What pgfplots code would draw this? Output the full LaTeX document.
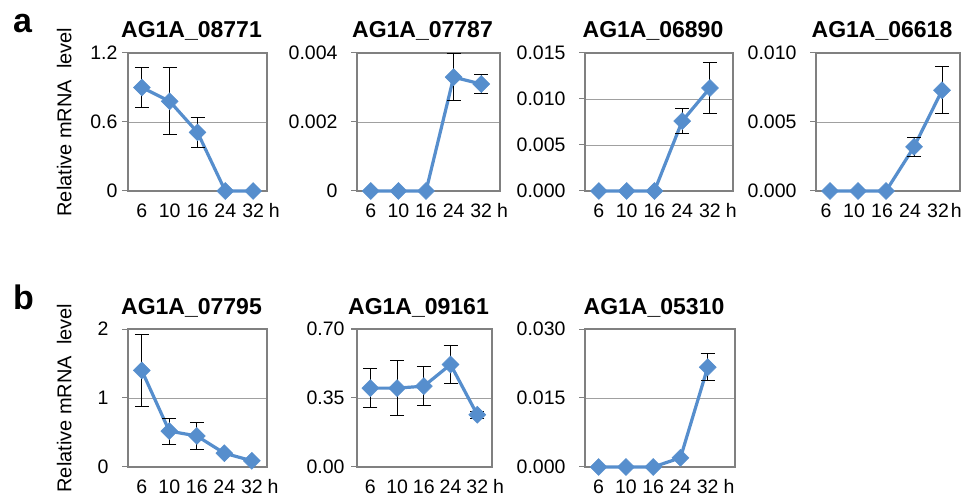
\documentclass[border=0pt]{standalone}
\usepackage{fontspec}
\setmainfont{Liberation Sans}
\usepackage{pgfplots}
\pgfplotsset{compat=1.18}
\definecolor{lineblue}{RGB}{86,142,205}
\definecolor{framegray}{RGB}{128,128,128}
\definecolor{gridgray}{RGB}{160,160,160}
\pgfplotsset{
  ser/.style={
    color=lineblue, line width=3.2pt, mark=square*, mark size=6pt,
    mark options={rotate=45, fill=lineblue, draw=lineblue, line width=0.5pt},
    error bars/y dir=both, error bars/y explicit,
    error bars/error bar style={black, line width=1pt},
    error bars/error mark options={black, line width=1pt, rotate=90, mark size=7pt},
  },
  pan/.style={
    scale only axis, height=138pt,
    xmin=-0.5, ymin=0,
    xtick={0,1,2,3,4}, xticklabels={6,10,16,24,{32\rlap{\hspace{5pt}h}}},
    xtick pos=bottom, ytick pos=left,
    major x tick style={draw=none},
    tick align=outside, major tick length=6pt,
    ytick style={draw=framegray, line width=1pt},
    axis line style={draw=framegray, line width=2.8pt},
    ymajorgrids, grid style={draw=gridgray, line width=0.9pt},
    scaled y ticks=false,
    tick label style={font=\fontsize{19.5}{24}\selectfont},
    yticklabel style={/pgf/number format/assume math mode=true, xshift=-10pt},
    xticklabel style={yshift=-3pt},
    title style={font=\fontsize{23}{27}\selectfont\bfseries, at={(0.5,1)}, anchor=base, yshift=9pt, xshift=-6pt},
    label style={font=\fontsize{20}{24}\selectfont},
    ylabel style={at={(axis description cs:0,0.5)}, anchor=south, yshift=53pt},
    clip=false,
  }
}
\begin{document}
\begin{tikzpicture}
\path[use as bounding box] (0pt,0pt) rectangle (961pt,-502pt);
\node[anchor=base west, font=\fontsize{34}{40}\selectfont\bfseries, inner sep=0pt] at (13pt,-33pt) {a};
\node[anchor=base west, font=\fontsize{34}{40}\selectfont\bfseries, inner sep=0pt] at (13pt,-310pt) {b};

% Row a
\begin{axis}[pan, at={(128pt,-53pt)}, anchor=north west, width=139pt, xmax=4.5,
  ymax=1.2, ytick={0,0.6,1.2}, yticklabels={0,0.6,1.2},
  yticklabel style={xshift=9pt},
  title={AG1A\_08771}, ylabel={Relative mRNA\ \ level}]
\addplot[ser] coordinates {(0,0.90) +- (0,0.17) (1,0.78) +- (0,0.29) (2,0.51) +- (0,0.13) (3,0) +- (0,0) (4,0) +- (0,0)};
\end{axis}

\begin{axis}[pan, at={(357pt,-53pt)}, anchor=north west, width=143pt, xmax=4.68,
  ymax=0.004, ytick={0,0.002,0.004}, yticklabels={0,0.002,0.004},
  title={AG1A\_07787}]
\addplot[ser] coordinates {(0,0) +- (0,0) (1,0) +- (0,0) (2,0) +- (0,0) (3,0.0033) +- (0,0.00068) (4,0.0031) +- (0,0.00027)};
\end{axis}

\begin{axis}[pan, at={(585pt,-53pt)}, anchor=north west, width=148pt, xmax=4.83,
  ymax=0.015, ytick={0,0.005,0.010,0.015}, yticklabels={0.000,0.005,0.010,0.015},
  title={AG1A\_06890}]
\addplot[ser] coordinates {(0,0) +- (0,0) (1,0) +- (0,0) (2,0) +- (0,0) (3,0.0076) +- (0,0.0014) (4,0.0112) +- (0,0.0028)};
\end{axis}

\begin{axis}[pan, at={(816pt,-53pt)}, anchor=north west, width=144pt, xmax=4.64,
  ymax=0.010, ytick={0,0.005,0.010}, yticklabels={0.000,0.005,0.010},
  xticklabels={6,10,16,24,{32\rlap{\hspace{2pt}h}}},
  xticklabel style={xshift=-4pt},
  title={AG1A\_06618}]
\addplot[ser] coordinates {(0,0) +- (0,0) (1,0) +- (0,0) (2,0) +- (0,0) (3,0.0032) +- (0,0.00067) (4,0.0073) +- (0,0.0017)};
\end{axis}

% Row b
\begin{axis}[pan, at={(128pt,-329pt)}, anchor=north west, width=139pt, xmax=4.55,
  ymax=2, ytick={0,1,2}, yticklabels={0,1,2},
  title={AG1A\_07795}, ylabel={Relative mRNA\ \ level}]
\addplot[ser] coordinates {(0,1.40) +- (0,0.52) (1,0.52) +- (0,0.19) (2,0.45) +- (0,0.19) (3,0.20) +- (0,0) (4,0.09) +- (0,0)};
\end{axis}

\begin{axis}[pan, at={(357pt,-329pt)}, anchor=north west, width=135pt, xmax=4.55,
  ymax=0.70, ytick={0,0.35,0.70}, yticklabels={0.00,0.35,0.70},
  yticklabel style={xshift=7pt},
  title={AG1A\_09161}]
\addplot[ser] coordinates {(0,0.40) +- (0,0.10) (1,0.40) +- (0,0.14) (2,0.41) +- (0,0.10) (3,0.52) +- (0,0.095) (4,0.265) +- (0,0.018)};
\end{axis}

\begin{axis}[pan, at={(585pt,-329pt)}, anchor=north west, width=150pt, xmax=5.0,
  ymax=0.030, ytick={0,0.015,0.030}, yticklabels={0.000,0.015,0.030},
  title={AG1A\_05310}]
\addplot[ser] coordinates {(0,0) +- (0,0) (1,0) +- (0,0) (2,0) +- (0,0) (3,0.002) +- (0,0) (4,0.0217) +- (0,0.0029)};
\end{axis}
\end{tikzpicture}
\end{document}
